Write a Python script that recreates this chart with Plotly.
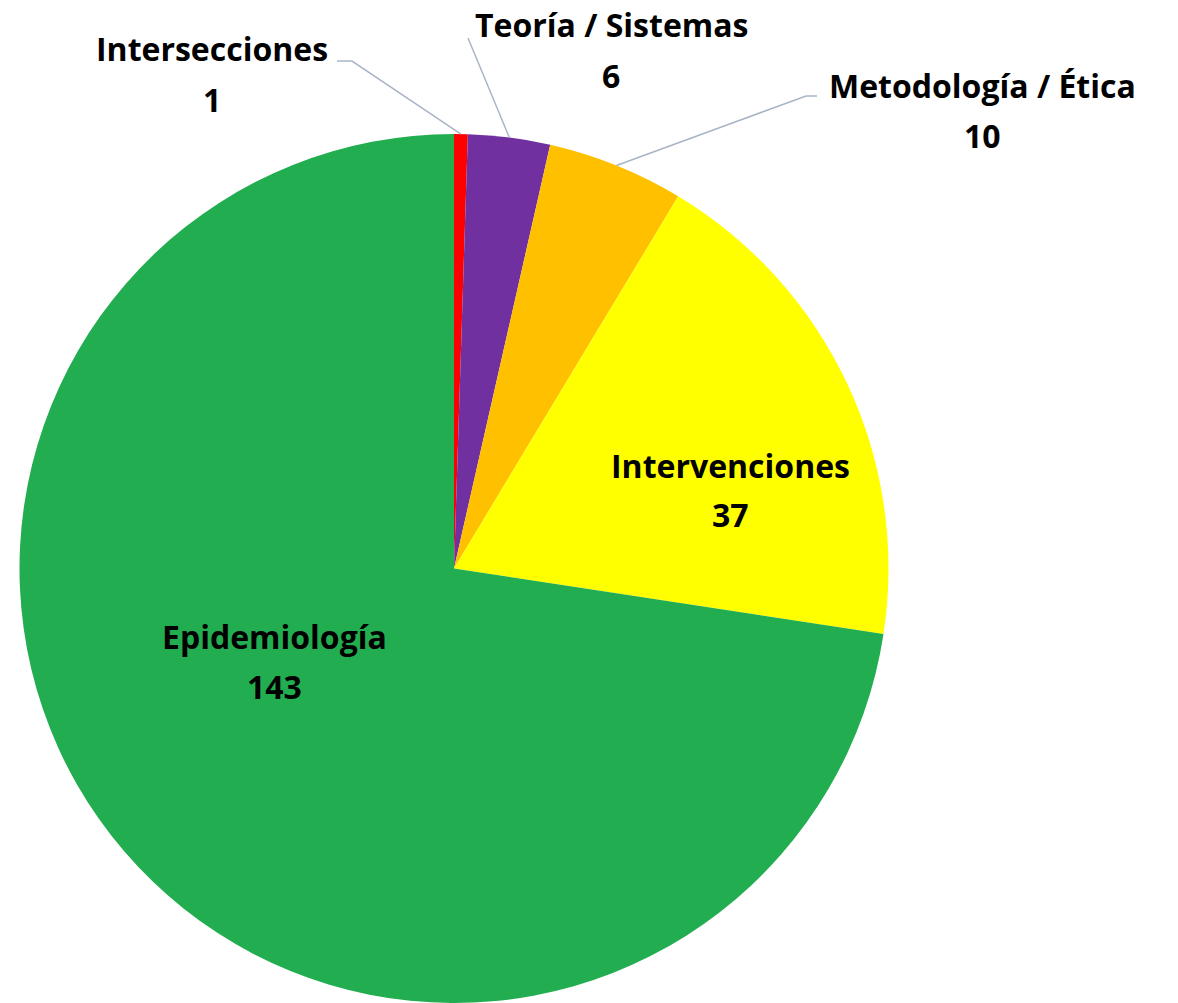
import math
import plotly.graph_objects as go

categories = ["Intersecciones", "Teoría / Sistemas", "Metodología / Ética", "Intervenciones", "Epidemiología"]
values = [1, 6, 10, 37, 143]
colors = ["#FF0000", "#7030A0", "#FFC000", "#FFFF00", "#22AE50"]

W, H = 1178, 1003
CX, CY, R = 454, 569, 435  # pie center / radius in pixels

def px(x):
    return x / W

def py(y):
    return 1 - y / H

FONT = "Open Sans"
FS = 32

fig = go.Figure(go.Pie(
    labels=categories,
    values=values,
    marker=dict(colors=colors, line=dict(width=0)),
    sort=False,
    direction="clockwise",
    rotation=0,
    textinfo="none",
    hoverinfo="label+value",
    domain=dict(x=[px(CX - R), px(CX + R)], y=[max(0, py(CY + R)), min(1, py(CY - R))]),
    showlegend=False,
))

# label layout: (name center x, name center y, value center y, leader-line points)
label_pos = {
    "Intersecciones": (212, 48, 100, [(337, 61), (352, 61)]),
    "Teoría / Sistemas": (611, 25, 76, [(468, 38)]),
    "Metodología / Ética": (982, 86, 136, [(817, 96), (806, 96)]),
    "Intervenciones": (730, 465, 514, None),
    "Epidemiología": (274, 636, 686, None),
}

total = sum(values)
cum = 0
shapes = []
annotations = []
for cat, v in zip(categories, values):
    mid = (cum + v / 2) / total * 2 * math.pi
    cum += v
    lx, ly1, ly2, leader = label_pos[cat]
    annotations.append(dict(x=px(lx), y=py(ly1), xref="paper", yref="paper", text=f"<b>{cat}</b>",
                            showarrow=False, xanchor="center", yanchor="middle",
                            font=dict(family=FONT, size=FS, color="#000000")))
    annotations.append(dict(x=px(lx), y=py(ly2), xref="paper", yref="paper", text=f"<b>{v}</b>",
                            showarrow=False, xanchor="center", yanchor="middle",
                            font=dict(family=FONT, size=FS, color="#000000")))
    if leader:
        ex = CX + R * math.sin(mid)
        ey = CY - R * math.cos(mid)
        pts = leader + [(ex, ey)]
        path = "M " + " L ".join(f"{px(x):.5f},{py(y):.5f}" for x, y in pts)
        shapes.append(dict(type="path", path=path, xref="paper", yref="paper",
                           line=dict(color="#A9B5C6", width=1.5)))

fig.update_layout(
    width=W, height=H,
    margin=dict(l=0, r=0, t=0, b=0),
    paper_bgcolor="white", plot_bgcolor="white",
    shapes=shapes, annotations=annotations,
)

fig.write_html("out.html", config={"displayModeBar": False},
               post_script="document.body.style.margin='0';document.body.style.overflow='hidden';")
